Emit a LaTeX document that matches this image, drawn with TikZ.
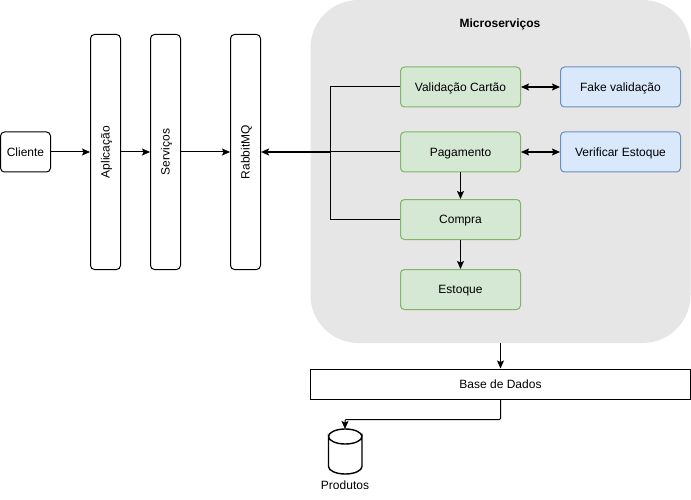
\documentclass[tikz,border=0pt]{standalone}
\usepackage{fontspec}
\setmainfont{Liberation Sans}
\usetikzlibrary{arrows.meta,positioning}
\definecolor{gfill}{HTML}{D5E8D4}
\definecolor{gline}{HTML}{82B366}
\definecolor{bfill}{HTML}{DAE8FC}
\definecolor{bline}{HTML}{6C8EBF}
\definecolor{panel}{HTML}{E6E6E6}
\tikzset{x=1pt,y=-1pt,
 lbl/.style={font=\fontsize{12}{14}\selectfont,text=black},
 whitebox/.style={draw=black,fill=white,rounded corners=4pt,line width=1pt,inner sep=0pt,lbl},
 greenbox/.style={draw=gline,fill=gfill,rounded corners=4pt,line width=1pt,minimum width=120pt,minimum height=40pt,inner sep=0pt,lbl,text depth=0pt,text height=10pt},
 bluebox/.style={draw=bline,fill=bfill,rounded corners=4pt,line width=1pt,minimum width=120pt,minimum height=40pt,inner sep=0pt,lbl,text depth=0pt,text height=10pt},
 conn/.style={draw=black,line width=1pt,-{Stealth[length=8pt,width=7pt,inset=1.5pt]}},
 both/.style={draw=black,line width=1.3pt,{Stealth[length=8pt,width=7pt,inset=1.5pt]}-{Stealth[length=8pt,width=7pt,inset=1.5pt]}}
}
\begin{document}
\begin{tikzpicture}
\useasboundingbox (0,0) rectangle (691,500);
\fill[white] (0,0) rectangle (691,500);
\node[draw=none,fill=panel,rounded corners=48pt,minimum width=380pt,minimum height=343pt,inner sep=0pt] (panel) at (500.5,171.5) {};
\node[lbl,font=\fontsize{12}{14}\selectfont\bfseries] (title) at (500,24) {Microserviços};
\node[whitebox,minimum width=50pt,minimum height=40pt] (cliente) at (25.5,152) {Cliente};
\node[whitebox,minimum width=30pt,minimum height=235pt] (apl) at (105.5,152) {};
\node[lbl,rotate=90] (aplt) at (106.5,152) {Aplicação};
\node[whitebox,minimum width=30pt,minimum height=235pt] (ser) at (165.5,152) {};
\node[lbl,rotate=90] (sert) at (166.5,152) {Serviços};
\node[whitebox,minimum width=30pt,minimum height=235pt] (rab) at (245.5,152) {};
\node[lbl,rotate=90] (rabt) at (246.5,152) {RabbitMQ};
\node[greenbox] (val) at (460.5,87) {Validação Cartão};
\node[greenbox] (pag) at (460.5,152) {Pagamento};
\node[greenbox,text height=8pt] (com) at (460.5,219.5) {Compra};
\node[greenbox,text height=7pt] (est) at (460.5,289.5) {Estoque};
\node[bluebox] (fake) at (620.5,87) {Fake validação};
\node[bluebox] (ver) at (620.5,152) {Verificar Estoque};
\node[draw=black,fill=white,line width=1pt,minimum width=380pt,minimum height=30pt,inner sep=0pt,lbl] (bd) at (500.5,384) {Base de Dados};
\coordinate (prod) at (345,429);
\coordinate (jn) at (330.5,152);
\filldraw[draw=black,fill=white,line width=1.4pt] (328.5,436.5) arc[x radius=16.75pt,y radius=7.5pt,start angle=180,end angle=360] -- (362,466.5) arc[x radius=16.75pt,y radius=7.5pt,start angle=0,end angle=-180] -- cycle;
\draw[black,line width=1.4pt] (328.5,436.5) arc[x radius=16.75pt,y radius=7.5pt,start angle=180,end angle=0];
\node[lbl] (prodt) at (345,485) {Produtos};
\draw[conn] (cliente) -- (apl);
\draw[conn] (apl) -- (ser);
\draw[conn] (ser) -- (rab);
\draw[draw=black,line width=1pt] (val.west) -| (jn);
\draw[draw=black,line width=1pt] (com.west) -| (jn);
\draw[draw=black,line width=1pt] (pag.west) -- (jn);
\draw[conn,line width=1.8pt] (jn) -- (rab.east);
\draw[both] (val) -- (fake);
\draw[both] (pag) -- (ver);
\draw[conn] (pag) -- (com);
\draw[conn] (com) -- (est);
\draw[conn] (panel.south) -- (bd.north);
\draw[conn,rounded corners=1pt] (bd.south) |- (345,419.5) -- (prod);
\end{tikzpicture}
\end{document}
